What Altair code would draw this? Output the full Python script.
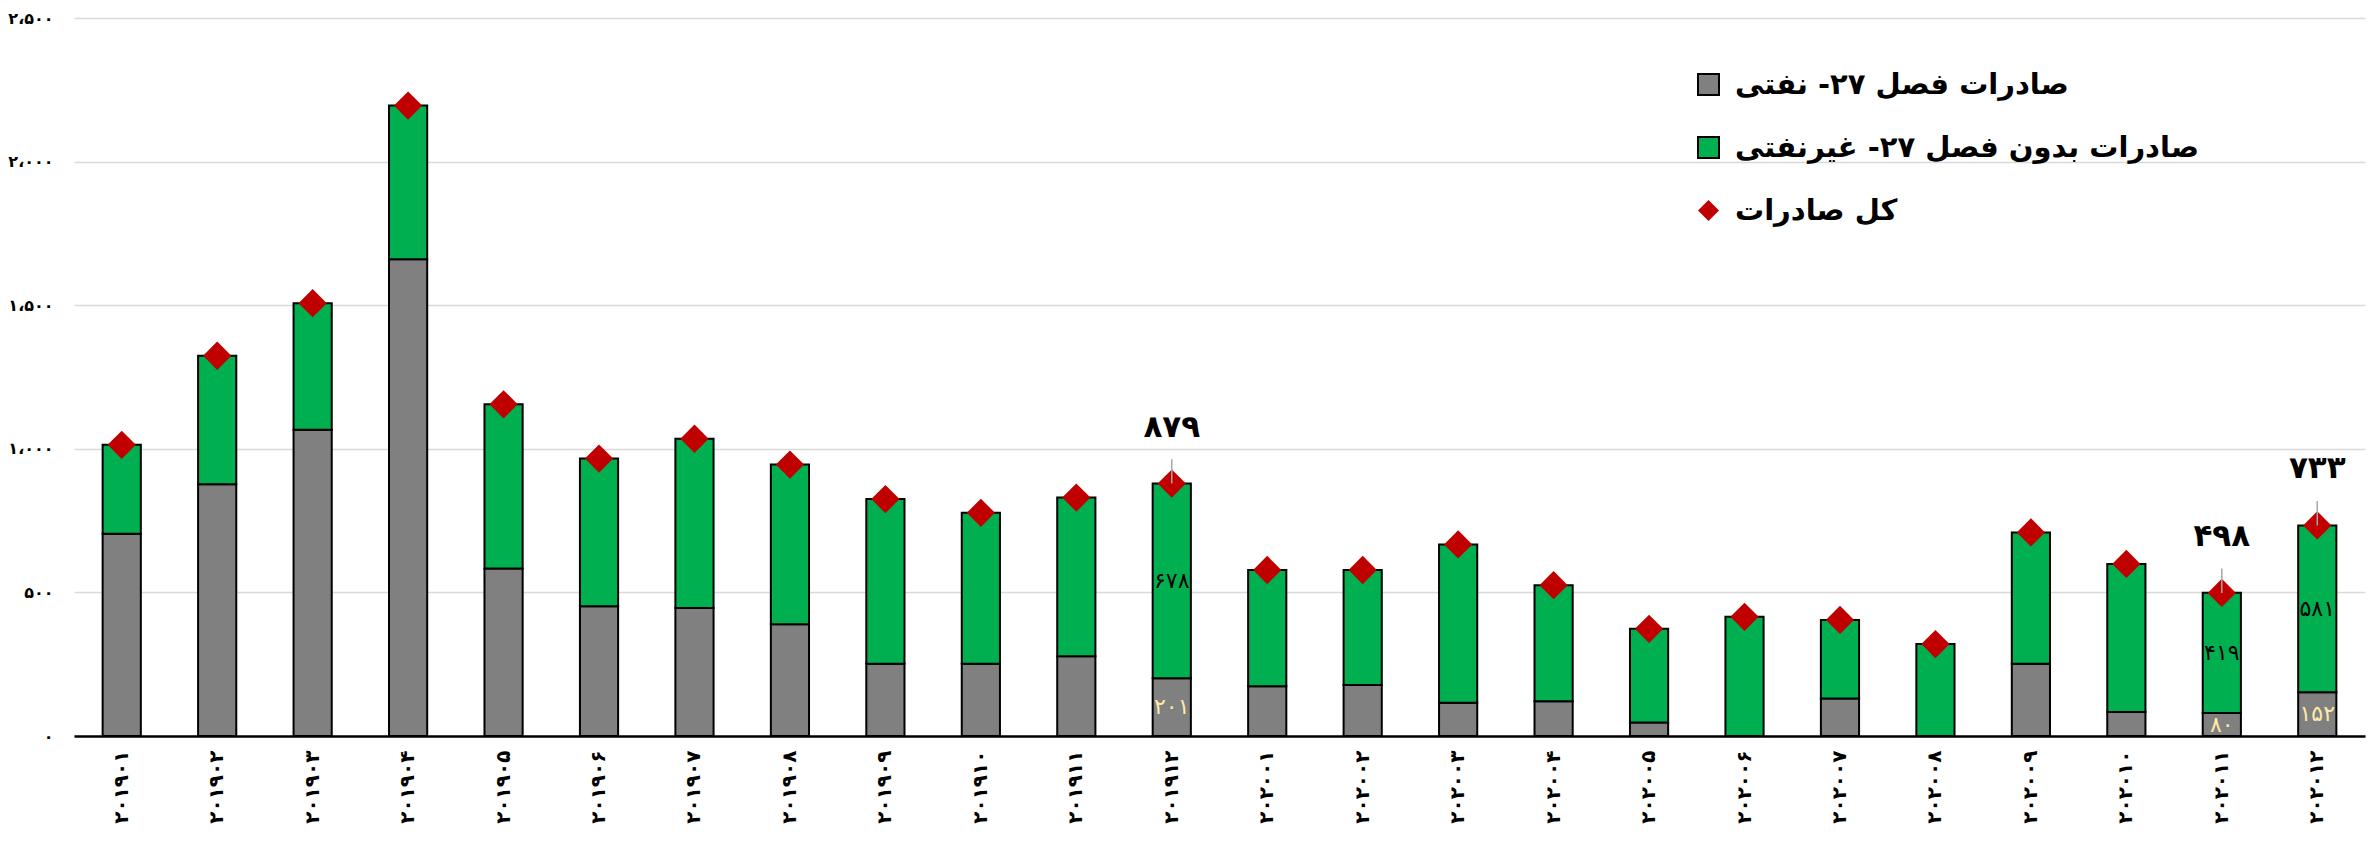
import altair as alt
import pandas as pd

# ---------------- data ----------------
months = ["201901", "201902", "201903", "201904", "201905", "201906",
          "201907", "201908", "201909", "201910", "201911", "201912",
          "202001", "202002", "202003", "202004", "202005", "202006",
          "202007", "202008", "202009", "202010", "202011", "202012"]
oil = [704, 877, 1066, 1660, 583, 452, 446, 389, 252, 252, 278, 201,
       173, 178, 116, 121, 47, 0, 131, 0, 252, 84, 80, 152]
nonoil = [310, 447, 441, 535, 572, 514, 589, 556, 573, 525, 552, 678,
          405, 400, 551, 404, 326, 415, 273, 320, 457, 515, 419, 581]
totals = [1014, 1324, 1507, 2195, 1155, 966, 1035, 945, 825, 777, 830, 879,
          578, 578, 667, 525, 373, 415, 404, 320, 709, 599, 498, 733]
labelled_months = ["201912", "202011", "202012"]

oil_name = "صادرات فصل ۲۷- نفتی"
nonoil_name = "صادرات بدون فصل ۲۷- غیرنفتی"
total_name = "کل صادرات"

y_ticks = [0, 500, 1000, 1500, 2000, 2500]
y_tick_labels = ["۰", "۵۰۰", "۱،۰۰۰", "۱،۵۰۰", "۲،۰۰۰", "۲،۵۰۰"]

GRAY = "#808080"
GREEN = "#00B050"
RED = "#C00000"
FONT = "DejaVu Sans"

# ---------------- tables ----------------
fa = str.maketrans("0123456789", "۰۱۲۳۴۵۶۷۸۹")
months_fa = [m.translate(fa) for m in months]

rows = []
for i, m in enumerate(months):
    show = m in labelled_months
    rows.append(dict(month=months_fa[i], series=oil_name, order=0, value=oil[i],
                     mid=oil[i] / 2, lab=str(oil[i]).translate(fa) if show else ""))
    rows.append(dict(month=months_fa[i], series=nonoil_name, order=1, value=nonoil[i],
                     mid=oil[i] + nonoil[i] / 2, lab=str(nonoil[i]).translate(fa) if show else ""))
bars_df = pd.DataFrame(rows)

tot_df = pd.DataFrame(dict(month=months_fa, total=totals, series=[total_name] * len(months)))
tot_df["lab"] = [str(t).translate(fa) if m in labelled_months else "" for m, t in zip(months, totals)]
tot_df["lead"] = tot_df["total"] + 85
lab_df = tot_df[tot_df["lab"] != ""]

label_expr = ""
for v, l in zip(y_ticks, y_tick_labels):
    label_expr += f"datum.value == {v} ? '{l}' : "
label_expr += "''"

x_enc = alt.X("month:N", sort=months_fa, title=None,
              scale=alt.Scale(paddingInner=0.6, paddingOuter=0.3),
              axis=alt.Axis(labelAngle=-90, labelFont=FONT, labelFontSize=20,
                            labelFontWeight="bold", labelColor="black", labelPadding=14,
                            ticks=False, domainColor="black", domainWidth=2.5, grid=False))
y_scale = alt.Scale(domain=[0, 2500], nice=False)

color_scale = alt.Scale(domain=[oil_name, nonoil_name, total_name], range=[GRAY, GREEN, RED])

is_total = f"datum.value === '{total_name}'"
legend = alt.Legend(
    title=None, orient="none", legendX=1620, legendY=52, padding=0,
    labelFont=FONT, labelFontSize=29, labelFontWeight="bold", labelColor="black",
    labelLimit=0, symbolSize=441, rowPadding=33, labelOffset=12,
    symbolType=alt.ExprRef(expr=f"{is_total} ? 'diamond' : 'square'"),
    symbolStrokeColor=alt.ExprRef(expr=f"{is_total} ? '{RED}' : 'black'"),
    symbolStrokeWidth=alt.ExprRef(expr=f"{is_total} ? 0 : 2"),
    symbolOpacity=1,
)

bars = alt.Chart(bars_df).mark_bar(stroke="black", strokeWidth=2).encode(
    x=x_enc,
    y=alt.Y("value:Q", stack="zero", scale=y_scale, title=None,
            axis=alt.Axis(values=y_ticks, labelExpr=label_expr, labelFont=FONT,
                          labelFontSize=16, labelFontWeight="bold", labelColor="black",
                          labelPadding=21, ticks=False, domain=False,
                          gridColor="#D9D9D9", gridWidth=1.5)),
    color=alt.Color("series:N", scale=color_scale, legend=legend),
    order=alt.Order("order:Q"),
)

bar_labels = alt.Chart(bars_df).mark_text(font=FONT, fontSize=22, baseline="middle").encode(
    x=alt.X("month:N", sort=months_fa),
    y=alt.Y("mid:Q", scale=y_scale),
    text="lab:N",
    color=alt.condition(f"datum.series === '{oil_name}'", alt.value("#FFE9A8"), alt.value("black")),
)

points = alt.Chart(tot_df).mark_point(shape="diamond", filled=True, size=800, opacity=1).encode(
    x=alt.X("month:N", sort=months_fa),
    y=alt.Y("total:Q", scale=y_scale),
    color=alt.Color("series:N", scale=color_scale, legend=legend),
)

leaders = alt.Chart(lab_df).mark_rule(color="#A6A6A6", strokeWidth=1.5).encode(
    x=alt.X("month:N", sort=months_fa),
    y=alt.Y("total:Q", scale=y_scale),
    y2="lead:Q",
)

tot_labels = alt.Chart(lab_df).mark_text(font=FONT, fontSize=31, fontWeight="bold",
                                         color="black", dy=-56, baseline="middle").encode(
    x=alt.X("month:N", sort=months_fa),
    y=alt.Y("total:Q", scale=y_scale),
    text="lab:N",
)

chart = alt.layer(bars, bar_labels, points, leaders, tot_labels).properties(
    width=2291, height=718,
    autosize=alt.AutoSizeParams(type="none"),
    padding={"left": 66, "top": 10, "right": 1, "bottom": 98},
    background="white",
).configure_view(stroke=None)

chart.save("out.html", embed_options={"renderer": "svg", "actions": False})
